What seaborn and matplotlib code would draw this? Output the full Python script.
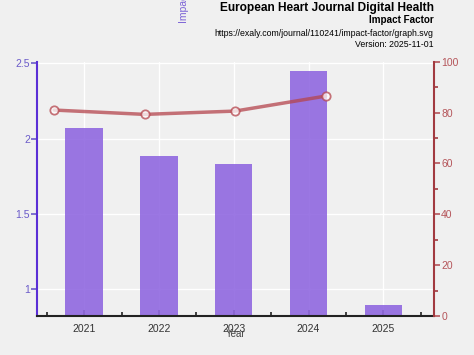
import numpy as np
import pandas as pd
import seaborn as sns
from matplotlib import pyplot as plt
from matplotlib.ticker import MultipleLocator, FormatStrFormatter

years = ['2021', '2022', '2023', '2024', '2025']
impact = [2.068, 1.882, 1.829, 2.449, 0.894]
pct_years = ['2021', '2022', '2023', '2024']
percentile = [81.0, 79.3, 80.6, 86.5]

sns.set_theme(style='white')
plt.rcParams['font.family'] = ['Liberation Sans', 'DejaVu Sans']

bg = '#f0f0f0'
purple = '#5b2fd6'
red = '#a23a40'

fig = plt.figure(figsize=(4.74, 3.55), dpi=100, facecolor=bg)
ax = fig.add_axes([0.078, 0.110, 0.838, 0.716], facecolor=bg)

df = pd.DataFrame({'Year': years, 'Impact': impact})
sns.barplot(data=df, x='Year', y='Impact', color='#9068e0', alpha=0.9, width=0.5,
            saturation=1, edgecolor='none', linewidth=0, ax=ax, zorder=2)
ax.set_ylim(0.823, 2.51)
ax.set_xlim(-0.63, 4.68)
ax.yaxis.set_major_locator(MultipleLocator(0.5))
ax.yaxis.set_major_formatter(FormatStrFormatter('%g'))
ax.grid(True, color='white', linewidth=1, zorder=0)
ax.set_axisbelow(True)
ax.set_ylabel('')
ax.set_xlabel('Year', fontsize=7, color='#444444', labelpad=-4)
ax.tick_params(axis='y', colors='#6b5bc9', labelsize=7.5, length=4, width=1.2,
               direction='out', left=True, pad=1)
ax.tick_params(axis='x', colors='#333333', labelsize=7.5, length=4, width=1.2,
               direction='in', bottom=True, pad=6)
for t in ax.get_xticklines():
    t.set_color('#4a2a99')
ax.set_xticks(np.arange(-0.5, 4.6, 1), minor=True)
ax.tick_params(axis='x', which='minor', direction='in', length=3, width=1.2,
               color='#222222', bottom=True)
ax.spines['left'].set_color(purple)
ax.spines['left'].set_linewidth(1.5)
ax.spines['bottom'].set_color('#222222')
ax.spines['bottom'].set_linewidth(1.5)
ax.spines['top'].set_visible(False)
ax.spines['right'].set_visible(False)

ax2 = ax.twinx()
ax2.set_ylim(0, 100)
ax2.yaxis.set_major_locator(MultipleLocator(20))
ax2.yaxis.set_minor_locator(MultipleLocator(10))
ax2.tick_params(axis='y', colors='#b5555a', labelsize=7.5, length=4, width=1.2,
                right=True, pad=1)
ax2.tick_params(axis='y', which='minor', color=red, length=3, width=1.2, right=True)
for s in ['left', 'top', 'bottom']:
    ax2.spines[s].set_visible(False)
ax2.spines['right'].set_color(red)
ax2.spines['right'].set_linewidth(1.5)
ax2.grid(False)

ax3 = fig.add_axes(ax.get_position(), facecolor='none')
ax3.set_xlim(-0.19, 4.2)
ax3.set_ylim(0, 100)
ax3.axis('off')
pdf = pd.DataFrame({'x': np.arange(len(pct_years)), 'pct': percentile})
sns.lineplot(data=pdf, x='x', y='pct', ax=ax3, color='#b5454d', alpha=0.75,
             linewidth=2.5, marker='o', markersize=6, markerfacecolor='white',
             markeredgecolor='#b5454d', markeredgewidth=1.3)

fig.text(0.389, 1.025, 'Impact Factor', rotation=90, fontsize=7.5, color='#7b62d6',
         ha='center', va='center')
fig.text(0.915, 0.978, 'European Heart Journal Digital Health', fontsize=8.6,
         fontweight='bold', ha='right', va='center', color='black')
fig.text(0.915, 0.943, 'Impact Factor', fontsize=7.1, fontweight='bold',
         ha='right', va='center', color='black')
fig.text(0.915, 0.906, 'https://exaly.com/journal/110241/impact-factor/graph.svg',
         fontsize=6.3, ha='right', va='center', color='black')
fig.text(0.915, 0.875, 'Version: 2025-11-01', fontsize=6.3, ha='right',
         va='center', color='black')

plt.savefig('out.png', dpi=100, facecolor=bg)
